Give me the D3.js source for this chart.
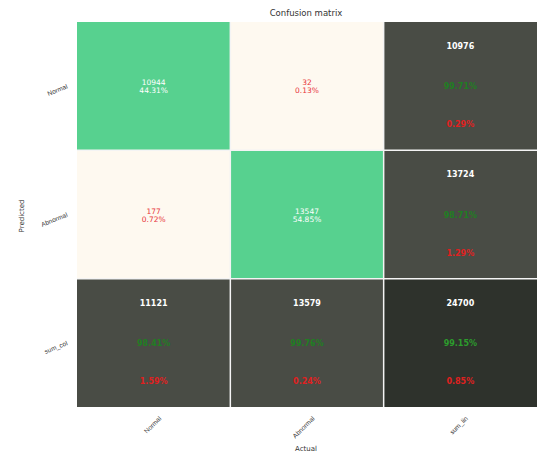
<!DOCTYPE html>
<html><head><meta charset="utf-8">
<script src="https://cdn.jsdelivr.net/npm/d3@7"></script>
<style>body{margin:0;background:#fff;} svg{display:block;font-family:"DejaVu Sans",sans-serif;}</style>
</head><body>
<svg id="c" width="537" height="455"></svg>
<script>
const classes = ["Normal", "Abnormal"];
const rowLabels = ["Normal", "Abnormal", "sum_col"];   // Predicted
const colLabels = ["Normal", "Abnormal", "sum_lin"];   // Actual
const rowNormal = [10944, 32];
const rowAbnormal = [177, 13547];
const counts = [rowNormal, rowAbnormal];

const svg = d3.select("#c");
const x = d3.scaleBand().domain(colLabels).range([77, 537]).paddingInner(0);
const y = d3.scaleBand().domain(rowLabels).range([22, 407]).paddingInner(0);

const total = d3.sum(counts.flat());
const rowSums = counts.map(r => d3.sum(r));
const colSums = classes.map((c, j) => d3.sum(counts, r => r[j]));
const diag = classes.map((c, i) => counts[i][i]);
const fmt = v => (v * 100).toFixed(2) + "%";

const cells = [];
counts.forEach((r, i) => r.forEach((v, j) => cells.push({r: rowLabels[i], c: colLabels[j], v, diag: i === j})));

const g = svg.append("g");
// main cells
g.selectAll("rect.m").data(cells).join("rect")
  .attr("x", d => x(d.c)).attr("y", d => y(d.r))
  .attr("width", x.bandwidth()).attr("height", y.bandwidth())
  .attr("fill", d => d.diag ? "#57d18f" : "#fef9f0");

g.selectAll("text.m1").data(cells).join("text")
  .attr("x", d => x(d.c) + x.bandwidth() / 2).attr("y", d => y(d.r) + y.bandwidth() / 2 - 1)
  .attr("text-anchor", "middle").attr("font-size", 7.5)
  .attr("fill", d => d.diag ? "#ffffff" : "#e8333a")
  .text(d => d.v);
g.selectAll("text.m2").data(cells).join("text")
  .attr("x", d => x(d.c) + x.bandwidth() / 2).attr("y", d => y(d.r) + y.bandwidth() / 2 + 7)
  .attr("text-anchor", "middle").attr("font-size", 7.5)
  .attr("fill", d => d.diag ? "#ffffff" : "#e8333a")
  .text(d => fmt(d.v / total));

// summary cells
const sums = [];
classes.forEach((c, i) => sums.push({r: rowLabels[i], c: "sum_lin", tot: rowSums[i], ok: diag[i] / rowSums[i], corner: false}));
classes.forEach((c, j) => sums.push({r: "sum_col", c: colLabels[j], tot: colSums[j], ok: diag[j] / colSums[j], corner: false}));
sums.push({r: "sum_col", c: "sum_lin", tot: total, ok: d3.sum(diag) / total, corner: true});

g.selectAll("rect.s").data(sums).join("rect")
  .attr("x", d => x(d.c)).attr("y", d => y(d.r))
  .attr("width", x.bandwidth()).attr("height", y.bandwidth())
  .attr("fill", d => d.corner ? "#2e322c" : "#494c45");

g.selectAll("text.s0").data(sums).join("text")
  .attr("x", d => x(d.c) + x.bandwidth() / 2).attr("y", d => y(d.r) + 27)
  .attr("text-anchor", "middle").attr("font-size", 8).attr("font-weight", "bold")
  .attr("fill", "#ffffff").text(d => d.tot);
g.selectAll("text.s1").data(sums).join("text")
  .attr("x", d => x(d.c) + x.bandwidth() / 2).attr("y", d => y(d.r) + y.bandwidth() / 2 + 3)
  .attr("text-anchor", "middle").attr("font-size", 8).attr("font-weight", "bold")
  .attr("fill", d => d.corner ? "#2c9c2c" : "#1f7f22").text(d => fmt(d.ok));
g.selectAll("text.s2").data(sums).join("text")
  .attr("x", d => x(d.c) + x.bandwidth() / 2).attr("y", d => y(d.r) + y.bandwidth() / 2 + 41)
  .attr("text-anchor", "middle").attr("font-size", 8).attr("font-weight", "bold")
  .attr("fill", "#e0201f").text(d => fmt(1 - d.ok));

// grid lines
g.selectAll("line.v").data(colLabels.slice(1)).join("line")
  .attr("x1", d => x(d)).attr("x2", d => x(d)).attr("y1", 22).attr("y2", 407)
  .attr("stroke", "#f4f4f4").attr("stroke-width", 1.5);
g.selectAll("line.h").data(rowLabels.slice(1)).join("line")
  .attr("y1", d => y(d)).attr("y2", d => y(d)).attr("x1", 77).attr("x2", 537)
  .attr("stroke", "#f4f4f4").attr("stroke-width", 1.5);

// axes
const ax = svg.append("g").attr("transform", "translate(0,407)")
  .call(d3.axisBottom(x).tickSize(0).tickPadding(0));
ax.select(".domain").remove();
ax.selectAll("text").attr("font-size", 6.5).attr("fill", "#333")
  .attr("text-anchor", "end").attr("dy", 0)
  .attr("transform", "translate(8,12) rotate(-45)");

const ay = svg.append("g").attr("transform", "translate(77,0)")
  .call(d3.axisLeft(y).tickSize(0).tickPadding(0));
ay.select(".domain").remove();
ay.selectAll("text").attr("font-size", 6.5).attr("fill", "#333")
  .attr("text-anchor", "end").attr("dy", 0)
  .attr("transform", "translate(-9,2) rotate(-22)");

svg.append("text").attr("x", 306).attr("y", 16).attr("text-anchor", "middle")
  .attr("font-size", 8.5).attr("fill", "#333").text("Confusion matrix");
svg.append("text").attr("x", 306).attr("y", 451).attr("text-anchor", "middle")
  .attr("font-size", 7).attr("fill", "#333").text("Actual");
svg.append("text").attr("transform", "translate(24,216) rotate(-90)").attr("text-anchor", "middle")
  .attr("font-size", 7).attr("fill", "#333").text("Predicted");
</script>
</body></html>
